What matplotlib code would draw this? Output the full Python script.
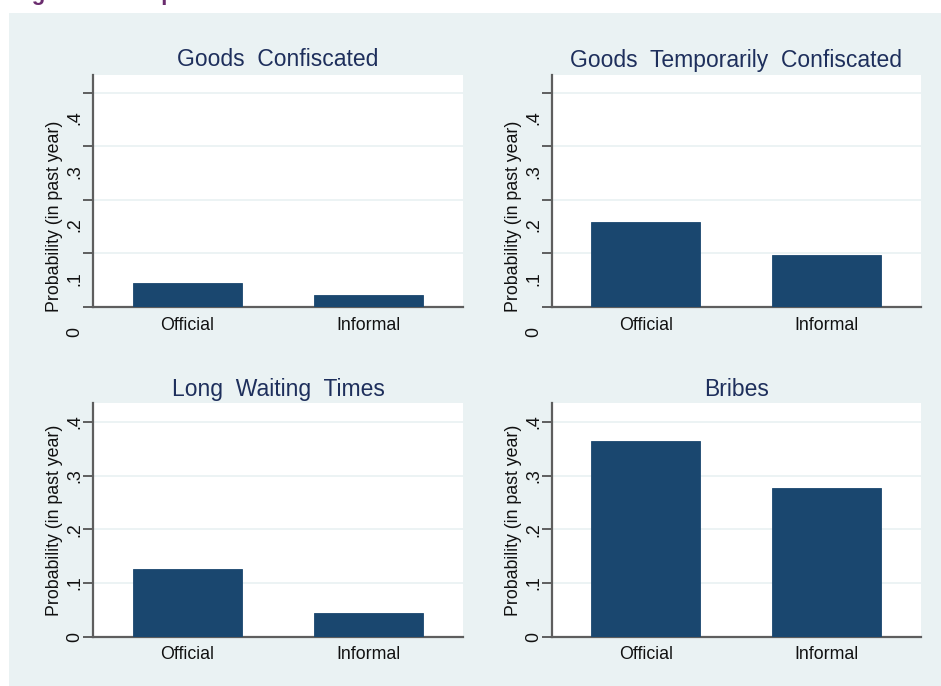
import matplotlib
matplotlib.use("Agg")
import matplotlib.pyplot as plt
from matplotlib.patches import Rectangle
from matplotlib.transforms import ScaledTranslation, blended_transform_factory

# ---- data -------------------------------------------------------------
categories = ["Official", "Informal"]
panel_titles = ["Goods  Confiscated", "Goods  Temporarily  Confiscated",
                "Long  Waiting  Times", "Bribes"]
goods_confiscated = [0.045, 0.022]
goods_temp_confiscated = [0.158, 0.097]
long_waiting_times = [0.126, 0.044]
bribes = [0.365, 0.277]
ytick_values = [0, 0.1, 0.2, 0.3, 0.4]
ytick_labels = ["0", ".1", ".2", ".3", ".4"]
ylabel_text = "Probability (in past year)"
heading_text = "Figure 3: Comparison of Official and Informal Trade Costs"

# ---- style ------------------------------------------------------------
W, H, DPI = 941, 686, 100
BG = "#EAF2F3"
BAR = "#1A476F"
TITLE = "#1E2F5C"
AXIS = "#5E5E5E"
FONT = ["Liberation Sans", "DejaVu Sans"]
plt.rcParams["font.family"] = FONT

fig = plt.figure(figsize=(W / DPI, H / DPI), dpi=DPI, facecolor="white")

# light graph region behind the four panels
fig.patches.append(Rectangle((9 / W, 0), 1 - 9 / W, 1 - 13 / H,
                             transform=fig.transFigure, facecolor=BG,
                             edgecolor="none", zorder=0))

# heading above the graph region (runs off the top edge of the page)
fig.text(12 / W, 1.0, heading_text, color="#6A2C6E", fontsize=16,
         fontweight="bold", va="baseline", ha="left")

# panel boxes in pixels: left, top, right, bottom
boxes = [(93, 75, 463, 307), (551.7, 75, 920.7, 307),
         (93, 403.3, 463, 636.7), (551.7, 403.3, 920.7, 636.7)]
series = [goods_confiscated, goods_temp_confiscated, long_waiting_times, bribes]
ytops = [0.433, 0.433, 0.435, 0.435]
label_shift = [25, 25, 0, 0]   # the upper row draws its y-annotations lower
title_gap = [15, 15, 14, 14]

for (l, t, r, b), vals, title, ytop, shift, gap in zip(
        boxes, series, panel_titles, ytops, label_shift, title_gap):
    ax = fig.add_axes([l / W, 1 - b / H, (r - l) / W, (b - t) / H])
    ax.set_facecolor("white")
    ax.set_zorder(2)
    x = list(range(len(categories)))
    ax.bar(x, vals, width=0.6, color=BAR, edgecolor=BAR, linewidth=0.6,
           zorder=3)
    ax.set_xlim(-0.52, 1.52)
    ax.set_ylim(0, ytop)

    for v in ytick_values[1:]:
        ax.axhline(v, color=BG, linewidth=1.3, zorder=1)

    for side in ("top", "right"):
        ax.spines[side].set_visible(False)
    for side in ("left", "bottom"):
        ax.spines[side].set_color(AXIS)
        ax.spines[side].set_linewidth(1.6)

    ax.set_yticks(ytick_values)
    ax.set_yticklabels([])
    ax.tick_params(axis="y", length=7, width=1.4, color=AXIS, direction="out")
    ax.set_xticks(x)
    ax.set_xticklabels(categories, fontsize=12.8, color="#111111")
    ax.tick_params(axis="x", length=0, pad=7)

    # rotated y tick labels
    tr = blended_transform_factory(ax.transAxes, ax.transData) + \
        ScaledTranslation(0, -shift / DPI, fig.dpi_scale_trans)
    for v, lab in zip(ytick_values, ytick_labels):
        ax.text(-18 / (r - l), v, lab, transform=tr, rotation=90,
                ha="center", va="center", fontsize=12.8, color="#111111")

    # rotated y axis title
    ax.text(-38 / (r - l), 0.5 - shift / (b - t), ylabel_text,
            transform=ax.transAxes, rotation=90, ha="center", va="center",
            fontsize=12.8, color="#111111")

    # panel title
    ttr = ax.transAxes + ScaledTranslation(0, gap / DPI, fig.dpi_scale_trans)
    ax.text(0.5, 1.0, title, transform=ttr, ha="center", va="center",
            fontsize=16.5, color=TITLE)

fig.savefig("out.png", dpi=DPI, facecolor="white")
